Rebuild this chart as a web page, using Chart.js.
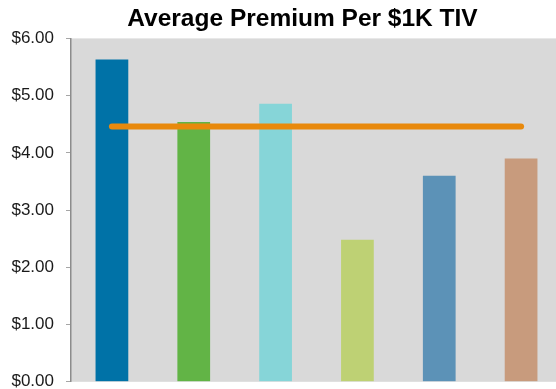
<!DOCTYPE html>
<html>
<head>
<meta charset="utf-8">
<script src="https://cdn.jsdelivr.net/npm/chart.js@4"></script>
<style>
  html, body { margin: 0; padding: 0; background: #fff; overflow: hidden; }
  #wrap { width: 556px; height: 389px; overflow: hidden; }
</style>
</head>
<body>
<div id="wrap">
  <canvas id="premiumChart" width="582" height="404"></canvas>
</div>
<script>
// categories (axis labels are hidden)
const groups = ["Group 1", "Group 2", "Group 3", "Group 4", "Group 5", "Group 6"];
// average premium per $1K TIV for each group
const premiums = [5.63, 4.54, 4.86, 2.48, 3.60, 3.90];
// overall average, drawn as the flat orange line
const overallAvg = [4.46, 4.46, 4.46, 4.46, 4.46, 4.46];
const barColors = ["#0072A7", "#62B446", "#86D5D8", "#BED174", "#5C92B7", "#C89B7D"];
const yTicks = [0, 1, 2, 3, 4, 5, 6];

// grey plot background
const plotBg = {
  id: "plotBg",
  beforeDraw(chart) {
    const { ctx, chartArea: a } = chart;
    ctx.save();
    ctx.fillStyle = "#D9D9D9";
    ctx.fillRect(a.left, a.top, a.right - a.left, a.bottom - a.top);
    ctx.restore();
  }
};

// shift the title's box so it centres over the whole chart frame
const titleShift = {
  id: "titleShift",
  afterLayout(chart) {
    if (chart.titleBlock) chart.titleBlock.left = 43;
  }
};

let ctx = document.getElementById("premiumChart").getContext("2d");
let premiumChart = new Chart(ctx, {
  data: {
    labels: groups,
    datasets: [
      {
        type: "line",
        label: "Average",
        data: overallAvg,
        borderColor: "#E8890C",
        borderWidth: 6,
        borderCapStyle: "round",
        pointRadius: 0,
        order: 0
      },
      {
        type: "bar",
        label: "Premium",
        data: premiums,
        backgroundColor: barColors,
        barPercentage: 0.4,
        categoryPercentage: 1.0,
        order: 1
      }
    ]
  },
  options: {
    responsive: false,
    animation: false,
    layout: { padding: { left: 0, right: 20, top: 0, bottom: 0 } },
    plugins: {
      legend: { display: false },
      tooltip: { enabled: false },
      title: {
        display: true,
        text: "Average Premium Per $1K TIV",
        color: "#000",
        font: { family: "Liberation Sans, Arial, sans-serif", size: 24.5, weight: "bold" },
        padding: { top: 5, bottom: 4 }
      }
    },
    scales: {
      x: { display: false },
      y: {
        min: 0,
        max: 6,
        afterBuildTicks: axis => { axis.ticks = yTicks.map(v => ({ value: v })); },
        afterFit: axis => { axis.width = 71; },
        ticks: {
          color: "#1a1a1a",
          padding: 12,
          font: { family: "Liberation Sans, Arial, sans-serif", size: 17 },
          callback: v => "$" + Number(v).toFixed(2)
        },
        grid: { drawOnChartArea: false, tickLength: 5, color: "#A6A6A6" },
        border: { color: "#8C8C8C", width: 1.5 }
      }
    }
  },
  plugins: [plotBg, titleShift]
});
</script>
</body>
</html>
